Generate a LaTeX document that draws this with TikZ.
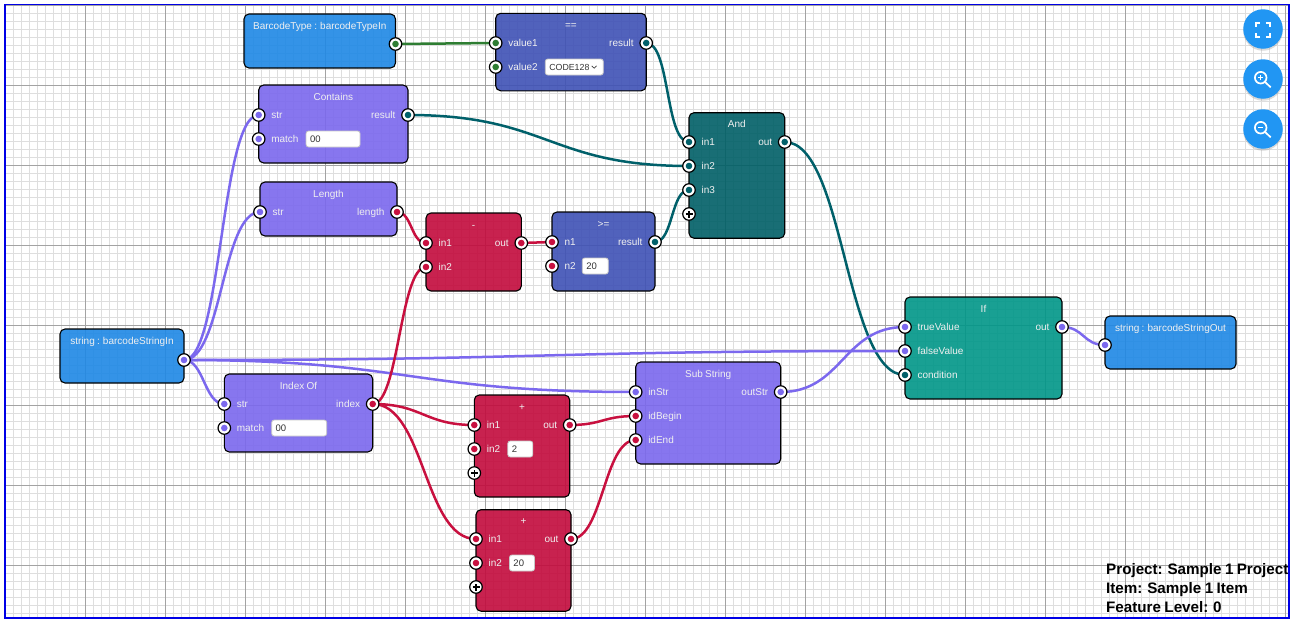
\documentclass[tikz,border=0pt]{standalone}
\usepackage{fontspec}
\setmainfont[WordSpace=0.8]{Liberation Sans}
\usetikzlibrary{positioning,shadows}
\definecolor{boxblue}{HTML}{1E88E5}
\definecolor{boxviolet}{HTML}{7B68EE}
\definecolor{boxindigo}{HTML}{3F51B5}
\definecolor{boxred}{HTML}{C30A3C}
\definecolor{boxteal}{HTML}{005F66}
\definecolor{boxgreen}{HTML}{009688}
\definecolor{wireteal}{HTML}{00606A}
\definecolor{wirered}{HTML}{C8103F}
\definecolor{wiregreen}{HTML}{2E7D32}
\definecolor{fabblue}{HTML}{2196F3}
\definecolor{frameblue}{HTML}{0000E6}
\pgfdeclarelayer{bg}
\pgfdeclarelayer{wires}
\pgfsetlayers{bg,wires,main}

\begin{document}
\begin{tikzpicture}[
      x=1pt, y=-1pt,
      fnbox/.style n args={3}{rectangle, draw=black, line width=1.1pt, fill=#1, fill opacity=0.9, text opacity=1, rounded corners=5pt, outer sep=0pt, inner sep=0pt, anchor=north west, minimum width=#2, minimum height=#3},
      port/.style={circle, draw=black, fill=white, line width=1.2pt, minimum size=12.5pt, inner sep=0pt, on grid, path picture={\fill[#1] (path picture bounding box.center) circle (3.3pt);}},
      addport/.style={circle, draw=black, fill=white, line width=1.2pt, minimum size=12.5pt, inner sep=0pt, on grid, path picture={\draw[line width=1.2pt] ([xshift=-3.5pt]path picture bounding box.center) -- ([xshift=3.5pt]path picture bounding box.center) ([yshift=-3.5pt]path picture bounding box.center) -- ([yshift=3.5pt]path picture bounding box.center);}},
      plabel/.style={font=\fontsize{10}{12}\selectfont, text=white!94!black, inner sep=0pt, text height=8pt, text depth=2pt},
      ptitle/.style={font=\fontsize{10}{12}\selectfont, text=white!94!black, inner sep=0pt, text height=8pt, text depth=2pt},
      inputbox/.style={rectangle, draw=black!22, fill=white, rounded corners=2.5pt, line width=0.8pt, font=\fontsize{9.5}{11}\selectfont, text=black!80, inner xsep=4pt, inner ysep=0pt, minimum height=16pt, text width=#1, align=left},
      wire/.style={line width=2.5pt, line cap=round, color=#1},
      fab/.style={circle, fill=fabblue, minimum size=39.5pt, inner sep=0pt, drop shadow={opacity=0.28, shadow xshift=0pt, shadow yshift=-2pt}},
      icon/.style={draw=white, line width=1.7pt}
    ]
      \useasboundingbox (0,0) rectangle (1294,624);

      % canvas
      \begin{pgfonlayer}{bg}
        \fill[white] (0,0) rectangle (1294,624);
        \begin{scope}
          \clip (5,4.7) rectangle (1289,618);
          \begin{scope}[shift={(5,5)}]
            \draw[black!13, line width=0.9pt, step=8pt] (-8,-8) grid (1296,624);
            \draw[black!36, line width=0.9pt, step=80pt] (-80,-80) grid (1296,624);
          \end{scope}
        \end{scope}
      \end{pgfonlayer}

      % inputs and outputs
      \node[fnbox={boxblue}{124}{54}] (stringIn) at (60,329) {};
      \node[ptitle, below=7pt of stringIn.north] (stringInTitle) {string : barcodeStringIn};
      \node[port=boxviolet] (stringInOut) at (184,360) {};

      \node[fnbox={boxblue}{151.5}{54}] (typeIn) at (244,14) {};
      \node[ptitle, below=7pt of typeIn.north] (typeInTitle) {BarcodeType : barcodeTypeIn};
      \node[port=wiregreen] (typeInOut) at (395.5,44) {};

      \node[fnbox={boxblue}{131}{53}] (stringOut) at (1105,316) {};
      \node[ptitle, below=7pt of stringOut.north] (stringOutTitle) {string : barcodeStringOut};
      \node[port=boxviolet] (stringOutIn) at (1105,345) {};

      % equals
      \node[fnbox={boxindigo}{150.5}{77.5}] (equals) at (495.7,13.3) {};
      \node[ptitle, below=7pt of equals.north] (equalsTitle) {==};
      \node[port=wiregreen] (equalsA) at (495.7,43) {};
      \node[port=wiregreen, below=24pt of equalsA] (equalsB) {};
      \node[port=wireteal] (equalsOut) at (646.2,43) {};
      \node[plabel, right=5.5pt of equalsA] (equalsAText) {value1};
      \node[plabel, right=5.5pt of equalsB] (equalsBText) {value2};
      \node[plabel, left=5.5pt of equalsOut] (equalsOutText) {result};
      \node[inputbox=50pt, font=\fontsize{8.8}{11}\selectfont, right=7pt of equalsBText] (equalsSelect) {CODE128};
      \draw[black!75, line width=0.7pt] (591.7,65.8) -- (594.2,68.2) -- (596.7,65.8);

      % contains
      \node[fnbox={boxviolet}{149.3}{78}] (contains) at (258.7,85) {};
      \node[ptitle, below=7pt of contains.north] (containsTitle) {Contains};
      \node[port=boxviolet] (containsStr) at (258.7,115) {};
      \node[port=boxviolet, below=24pt of containsStr] (containsMatch) {};
      \node[port=wireteal] (containsOut) at (408,115) {};
      \node[plabel, right=5.5pt of containsStr] (containsStrText) {str};
      \node[plabel, right=5.5pt of containsMatch] (containsMatchText) {match};
      \node[plabel, left=5.5pt of containsOut] (containsOutText) {result};
      \node[inputbox=46pt, right=7pt of containsMatchText] (containsInput) {00};

      % length
      \node[fnbox={boxviolet}{137}{54}] (length) at (260,182) {};
      \node[ptitle, below=7pt of length.north] (lengthTitle) {Length};
      \node[port=boxviolet] (lengthStr) at (260,212) {};
      \node[port=wirered] (lengthOut) at (397,212) {};
      \node[plabel, right=5.5pt of lengthStr] (lengthStrText) {str};
      \node[plabel, left=5.5pt of lengthOut] (lengthOutText) {length};

      % minus
      \node[fnbox={boxred}{95.3}{78}] (minus) at (426,213) {};
      \node[ptitle, below=7pt of minus.north] (minusTitle) {-};
      \node[port=wirered] (minusA) at (426,243) {};
      \node[port=wirered, below=24pt of minusA] (minusB) {};
      \node[port=wirered] (minusOut) at (521.3,243) {};
      \node[plabel, right=5.5pt of minusA] (minusAText) {in1};
      \node[plabel, right=5.5pt of minusB] (minusBText) {in2};
      \node[plabel, left=5.5pt of minusOut] (minusOutText) {out};

      % greater or equal
      \node[fnbox={boxindigo}{103}{79}] (atLeast) at (552,212) {};
      \node[ptitle, below=7pt of atLeast.north] (atLeastTitle) {>=};
      \node[port=wirered] (atLeastA) at (552,242) {};
      \node[port=wirered, below=24pt of atLeastA] (atLeastB) {};
      \node[port=wireteal] (atLeastOut) at (655,242) {};
      \node[plabel, right=5.5pt of atLeastA] (atLeastAText) {n1};
      \node[plabel, right=5.5pt of atLeastB] (atLeastBText) {n2};
      \node[plabel, left=5.5pt of atLeastOut] (atLeastOutText) {result};
      \node[inputbox=18pt, right=6pt of atLeastBText] (atLeastInput) {20};

      % and
      \node[fnbox={boxteal}{95.7}{125.5}] (andGate) at (689,112.7) {};
      \node[ptitle, below=7pt of andGate.north] (andGateTitle) {And};
      \node[port=wireteal] (andA) at (689,142) {};
      \node[port=wireteal, below=24pt of andA] (andB) {};
      \node[port=wireteal, below=24pt of andB] (andC) {};
      \node[addport, below=24pt of andC] (andAdd) {};
      \node[port=wireteal] (andOut) at (784.7,142) {};
      \node[plabel, right=5.5pt of andA] (andAText) {in1};
      \node[plabel, right=5.5pt of andB] (andBText) {in2};
      \node[plabel, right=5.5pt of andC] (andCText) {in3};
      \node[plabel, left=5.5pt of andOut] (andOutText) {out};

      % if
      \node[fnbox={boxgreen}{157}{102}] (ifGate) at (905,297) {};
      \node[ptitle, below=7pt of ifGate.north] (ifGateTitle) {If};
      \node[port=boxviolet] (ifTrue) at (905,327) {};
      \node[port=boxviolet, below=24pt of ifTrue] (ifFalse) {};
      \node[port=wireteal, below=24pt of ifFalse] (ifCond) {};
      \node[port=boxviolet] (ifOut) at (1062,327) {};
      \node[plabel, right=5.5pt of ifTrue] (ifTrueText) {trueValue};
      \node[plabel, right=5.5pt of ifFalse] (ifFalseText) {falseValue};
      \node[plabel, right=5.5pt of ifCond] (ifCondText) {condition};
      \node[plabel, left=5.5pt of ifOut] (ifOutText) {out};

      % index of
      \node[fnbox={boxviolet}{148.4}{78}] (indexOf) at (224.3,374) {};
      \node[ptitle, below=7pt of indexOf.north] (indexOfTitle) {Index Of};
      \node[port=boxviolet] (indexStr) at (224.3,404) {};
      \node[port=boxviolet, below=24pt of indexStr] (indexMatch) {};
      \node[port=wirered] (indexOut) at (372.7,404) {};
      \node[plabel, right=5.5pt of indexStr] (indexStrText) {str};
      \node[plabel, right=5.5pt of indexMatch] (indexMatchText) {match};
      \node[plabel, left=5.5pt of indexOut] (indexOutText) {index};
      \node[inputbox=47pt, right=7pt of indexMatchText] (indexInput) {00};

      % first plus
      \node[fnbox={boxred}{95.4}{102}] (plusOne) at (474.3,395) {};
      \node[ptitle, below=7pt of plusOne.north] (plusOneTitle) {+};
      \node[port=wirered] (plusOneA) at (474.3,425) {};
      \node[port=wirered, below=24pt of plusOneA] (plusOneB) {};
      \node[addport, below=24pt of plusOneB] (plusOneAdd) {};
      \node[port=wirered] (plusOneOut) at (569.7,425) {};
      \node[plabel, right=5.5pt of plusOneA] (plusOneAText) {in1};
      \node[plabel, right=5.5pt of plusOneB] (plusOneBText) {in2};
      \node[plabel, left=5.5pt of plusOneOut] (plusOneOutText) {out};
      \node[inputbox=17pt, right=7pt of plusOneBText] (plusOneInput) {2};

      % second plus
      \node[fnbox={boxred}{95}{101.5}] (plusTwo) at (476,509.7) {};
      \node[ptitle, below=7pt of plusTwo.north] (plusTwoTitle) {+};
      \node[port=wirered] (plusTwoA) at (476,539) {};
      \node[port=wirered, below=24pt of plusTwoA] (plusTwoB) {};
      \node[addport, below=24pt of plusTwoB] (plusTwoAdd) {};
      \node[port=wirered] (plusTwoOut) at (571,539) {};
      \node[plabel, right=5.5pt of plusTwoA] (plusTwoAText) {in1};
      \node[plabel, right=5.5pt of plusTwoB] (plusTwoBText) {in2};
      \node[plabel, left=5.5pt of plusTwoOut] (plusTwoOutText) {out};
      \node[inputbox=17pt, right=7pt of plusTwoBText] (plusTwoInput) {20};

      % sub string
      \node[fnbox={boxviolet}{145}{102}] (subString) at (635.7,362) {};
      \node[ptitle, below=7pt of subString.north] (subStringTitle) {Sub String};
      \node[port=boxviolet] (subStr) at (635.7,392) {};
      \node[port=wirered, below=24pt of subStr] (subBegin) {};
      \node[port=wirered, below=24pt of subBegin] (subEnd) {};
      \node[port=boxviolet] (subOut) at (780.7,392) {};
      \node[plabel, right=5.5pt of subStr] (subStrText) {inStr};
      \node[plabel, right=5.5pt of subBegin] (subBeginText) {idBegin};
      \node[plabel, right=5.5pt of subEnd] (subEndText) {idEnd};
      \node[plabel, left=5.5pt of subOut] (subOutText) {outStr};

      % connectors
      \begin{pgfonlayer}{wires}
        \draw[wire=wiregreen] (typeInOut.center) .. controls +(50,0) and +(-50,0) .. (equalsA.center);
        \draw[wire=wireteal] (equalsOut.center) .. controls +(24,0) and +(-24,0) .. (andA.center);
        \draw[wire=wireteal] (containsOut.center) .. controls +(140,0) and +(-140,0) .. (andB.center);
        \draw[wire=wireteal] (atLeastOut.center) .. controls +(18,0) and +(-18,0) .. (andC.center);
        \draw[wire=wireteal] (andOut.center) .. controls +(60,0) and +(-60,0) .. (ifCond.center);
        \draw[wire=boxviolet] (ifOut.center) .. controls +(22,0) and +(-22,0) .. (stringOutIn.center);
        \draw[wire=boxviolet] (stringInOut.center) .. controls +(38,0) and +(-38,0) .. (containsStr.center);
        \draw[wire=boxviolet] (stringInOut.center) .. controls +(38,0) and +(-38,0) .. (lengthStr.center);
        \draw[wire=boxviolet] (stringInOut.center) .. controls +(20,0) and +(-20,0) .. (indexStr.center);
        \draw[wire=boxviolet] (stringInOut.center) .. controls +(360,0) and +(-360,0) .. (ifFalse.center);
        \draw[wire=boxviolet] (stringInOut.center) .. controls +(225,0) and +(-225,0) .. (subStr.center);
        \draw[wire=boxviolet] (subOut.center) .. controls +(62,0) and +(-62,0) .. (ifTrue.center);
        \draw[wire=wirered] (lengthOut.center) .. controls +(15,0) and +(-15,0) .. (minusA.center);
        \draw[wire=wirered] (minusOut.center) .. controls +(15,0) and +(-15,0) .. (atLeastA.center);
        \draw[wire=wirered] (indexOut.center) .. controls +(26,0) and +(-26,0) .. (minusB.center);
        \draw[wire=wirered] (indexOut.center) .. controls +(50,0) and +(-50,0) .. (plusOneA.center);
        \draw[wire=wirered] (indexOut.center) .. controls +(52,0) and +(-52,0) .. (plusTwoA.center);
        \draw[wire=wirered] (plusOneOut.center) .. controls +(33,0) and +(-33,0) .. (subBegin.center);
        \draw[wire=wirered] (plusTwoOut.center) .. controls +(32,0) and +(-32,0) .. (subEnd.center);
      \end{pgfonlayer}

      % zoom buttons
      \node[fab] (fitButton) at (1263,29) {};
      \node[fab] (zoomInButton) at (1263,79) {};
      \node[fab] (zoomOutButton) at (1263,129) {};
      \draw[icon] (1256.3,27) -- (1256.3,23.3) -- (1260,23.3) (1266,23.3) -- (1269.7,23.3) -- (1269.7,27)
                  (1269.7,33) -- (1269.7,36.7) -- (1266,36.7) (1260,36.7) -- (1256.3,36.7) -- (1256.3,33);
      \draw[icon] (1260.7,77.7) circle (5.8pt) (1265,82) -- (1270.7,87.3);
      \draw[icon, line width=1.1pt] (1258,77.7) -- (1263.4,77.7) (1260.7,75) -- (1260.7,80.4);
      \draw[icon] (1260.7,127.7) circle (5.8pt) (1265,132) -- (1270.7,137.3);
      \draw[icon, line width=1.1pt] (1258,127.7) -- (1263.4,127.7);

      % project info
      \node[anchor=north west, inner sep=0pt, align=left, font=\fontsize{15.2}{19}\selectfont\bfseries] (projectInfo) at (1106,563) {Project: Sample 1 Project\\Item: Sample 1 Item\\Feature Level: 0};

      \draw[frameblue, line width=1.1pt] (5,4.7) rectangle (1289,618);
    \end{tikzpicture}
\end{document}
